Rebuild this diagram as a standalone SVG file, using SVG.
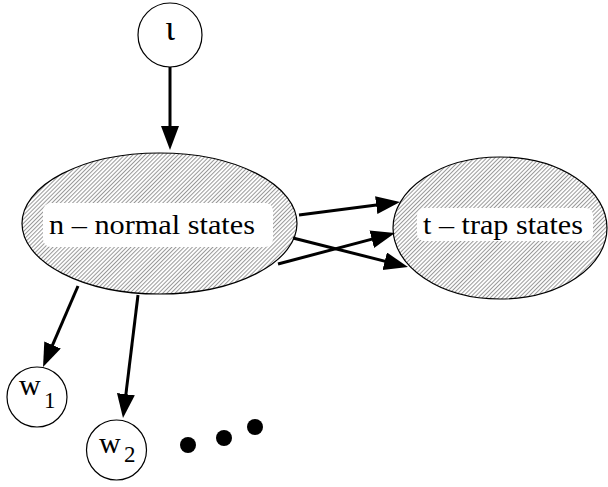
<svg xmlns="http://www.w3.org/2000/svg" width="608" height="487" viewBox="0 0 608 487">
<style>
text{font-family:'Liberation Serif','Times New Roman',serif;fill:#000}
.circ{fill:#fff;stroke:#000;stroke-width:1.2}
.ell{fill:url(#hatch);stroke:#000;stroke-width:1.2}
.lbl{fill:#fff;stroke:none}
.edge{stroke:#000;stroke-width:3;fill:none;marker-end:url(#ah)}
</style>
<defs>
<pattern id="hatch" patternUnits="userSpaceOnUse" width="2.9" height="10" patternTransform="rotate(45)">
<rect width="2.9" height="10" fill="#fff"/>
<line x1="0.5" y1="0" x2="0.5" y2="10" stroke="#999" stroke-width="1"/>
</pattern>
<marker id="ah" markerUnits="userSpaceOnUse" markerWidth="26" markerHeight="20" refX="14" refY="9" orient="auto" viewBox="0 0 26 20">
<path d="M0,0 L24,9 L0,18 z" fill="#000"/>
</marker>
</defs>
<g id="iota">
<circle class="circ" cx="170" cy="35" r="32"/>
<text x="170" y="40" font-size="36" text-anchor="middle">ι</text>
</g>
<g id="n">
<ellipse class="ell" cx="159.5" cy="223.5" rx="137.5" ry="70.5"/>
<rect class="lbl" x="43" y="203" width="230" height="44" rx="8"/>
<text x="49" y="234" font-size="28" textLength="206" lengthAdjust="spacingAndGlyphs">n – normal states</text>
</g>
<g id="t">
<ellipse class="ell" cx="500" cy="228" rx="107" ry="71"/>
<rect class="lbl" x="417" y="208" width="176" height="33" rx="7"/>
<text x="423" y="234" font-size="28" textLength="160" lengthAdjust="spacingAndGlyphs">t – trap states</text>
</g>
<g id="w1">
<circle class="circ" cx="37" cy="397" r="30"/>
<text x="19" y="395" font-size="30">w</text>
<text x="44" y="408" font-size="23">1</text>
</g>
<g id="w2">
<circle class="circ" cx="116.5" cy="450" r="30"/>
<text x="99" y="453" font-size="30">w</text>
<text x="124" y="462" font-size="23">2</text>
</g>
<g id="dots">
<circle cx="188" cy="445" r="8" fill="#000"/>
<circle cx="224" cy="438" r="8" fill="#000"/>
<circle cx="255" cy="427" r="8" fill="#000"/>
</g>
<g id="connectors">
<line class="edge" x1="170" y1="67" x2="170" y2="140"/>
<line class="edge" x1="299" y1="215" x2="390.1" y2="203.3"/>
<line class="edge" x1="278" y1="264" x2="385.3" y2="235.6"/>
<line class="edge" x1="293" y1="238" x2="398.3" y2="264.6"/>
<line class="edge" x1="78" y1="286" x2="47" y2="357.8"/>
<line class="edge" x1="138" y1="295" x2="124.2" y2="408.1"/>
</g>
</svg>
